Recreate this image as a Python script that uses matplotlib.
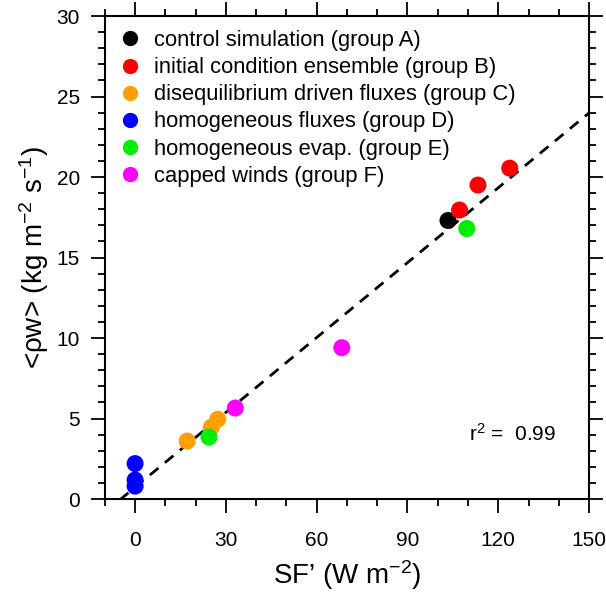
import numpy as np
import matplotlib
matplotlib.use("Agg")
import matplotlib.pyplot as plt
from matplotlib.lines import Line2D
from matplotlib.ticker import MultipleLocator

plt.rcParams["font.family"] = ["Liberation Sans", "DejaVu Sans"]
plt.rcParams["mathtext.fontset"] = "custom"
plt.rcParams["mathtext.rm"] = "Liberation Sans"
plt.rcParams["mathtext.it"] = "Liberation Sans"

# groups, colours and values
group_names = ["control simulation (group A)", "initial condition ensemble (group B)",
               "disequilibrium driven fluxes (group C)", "homogeneous fluxes (group D)",
               "homogeneous evap. (group E)", "capped winds (group F)"]
group_colors = ["#000000", "#ff0000", "#ffa000", "#0000ff", "#00ee00", "#ff00ff"]

sf_a = [103.4]
rw_a = [17.3]
sf_b = [107.2, 113.3, 123.8]
rw_b = [17.95, 19.5, 20.55]
sf_c = [17.2, 25.2, 27.3]
rw_c = [3.6, 4.45, 4.95]
sf_d = [0.0, 0.0, 0.0]
rw_d = [2.2, 1.18, 0.8]
sf_e = [109.6, 24.4]
rw_e = [16.8, 3.85]
sf_f = [68.3, 33.1]
rw_f = [9.4, 5.65]

# regression line (slope, intercept)
fit_slope = 0.155
fit_intercept = 0.73
r2_text = "0.99"

xs = [sf_a, sf_b, sf_c, sf_d, sf_e, sf_f]
ys = [rw_a, rw_b, rw_c, rw_d, rw_e, rw_f]

fig = plt.figure(figsize=(6.06, 5.93), dpi=100)
ax = fig.add_axes([0.173, 0.1585, 0.799, 0.8145])

line_x = np.array([-10, 150])
ax.plot(line_x, fit_slope * line_x + fit_intercept, "k--", linewidth=2, dashes=(4, 3), zorder=1)

for x, y, c in zip(xs, ys, group_colors):
    ax.scatter(x, y, s=150, color=c, edgecolors="none", zorder=3, clip_on=False)

handles = [Line2D([], [], marker="o", linestyle="none", markersize=11,
                  markerfacecolor=c, markeredgecolor="none") for c in group_colors]
ax.legend(handles, group_names, loc="upper left", frameon=False, fontsize=15.8,
          handletextpad=0.6, labelspacing=0.28, borderaxespad=0.24, borderpad=0.4,
          handlelength=1.0)

ax.text(0.753, 0.12, "r$^2$ =  " + r2_text, transform=ax.transAxes, fontsize=15)

ax.set_xlim(-10, 150)
ax.set_ylim(0, 30)
ax.xaxis.set_major_locator(MultipleLocator(30))
ax.xaxis.set_minor_locator(MultipleLocator(10))
ax.yaxis.set_major_locator(MultipleLocator(5))
ax.yaxis.set_minor_locator(MultipleLocator(1))
ax.tick_params(which="both", direction="out", top=True, right=True, width=1.3)
ax.tick_params(which="major", length=10, labelsize=15)
ax.tick_params(axis="x", which="major", pad=13)
ax.tick_params(axis="y", which="major", pad=8)
ax.tick_params(which="minor", length=5)
ax.tick_params(labeltop=False, labelright=False)
for sp in ax.spines.values():
    sp.set_linewidth(1.5)

ax.set_xlabel("SF’ (W m$^{\\mathrm{-2}}$)", fontsize=20, labelpad=6)
ax.set_ylabel("<ρw> (kg m$^{-2}$ s$^{-1}$)", fontsize=20)

fig.savefig("out.png", dpi=100)
